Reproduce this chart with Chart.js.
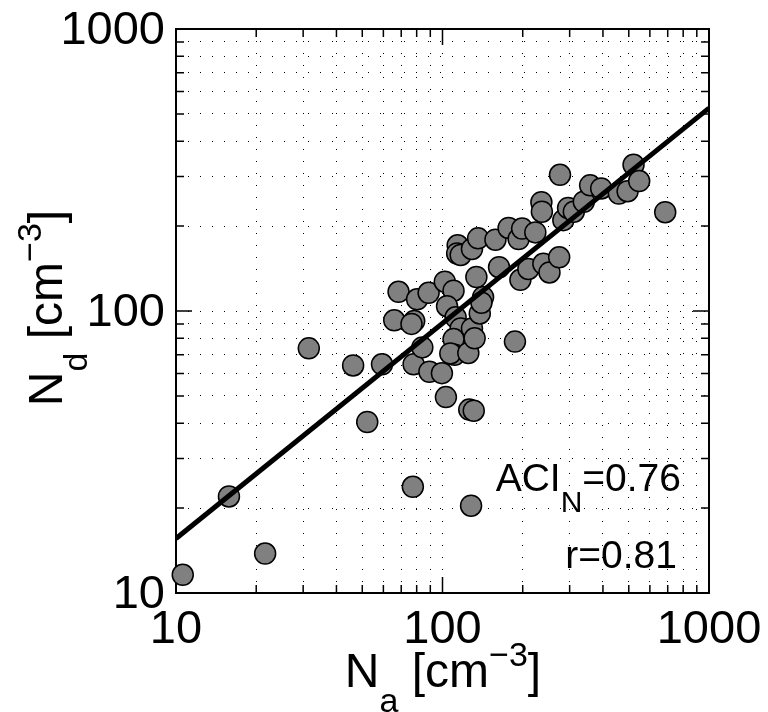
<!DOCTYPE html>
<html>
<head>
<meta charset="utf-8">
<script src="https://cdn.jsdelivr.net/npm/chart.js@4.4.1/dist/chart.umd.min.js"></script>
<style>
  html, body { margin: 0; background: #fff; }
  #wrap { width: 768px; height: 712px; position: relative; }
</style>
</head>
<body>
<div id="wrap"><canvas id="chart"></canvas></div>
<script>
// aerosol number (x) vs droplet number (y), both cm^-3
const na = [10.6, 15.8, 21.6, 31.5, 46.2, 52.2, 59.3, 68.4, 65.9, 78.3,
  76.5, 80.3, 88.7, 77.4, 77.9, 84, 89.3, 99.5, 102, 110,
  104, 112, 103, 117, 110, 111, 107, 125, 129, 132,
  126, 131, 128, 187, 142, 138, 134, 114, 113.5, 117,
  129, 136, 158, 163, 177, 193, 199, 223, 196, 210,
  239, 252, 274, 235, 236, 276, 284, 296, 311, 339,
  358, 394, 459, 495, 521, 547, 685, 140];
const nd = [11.6, 22.0, 13.8, 73.7, 64.1, 40.4, 64.7, 117, 92.7, 92.2,
  90, 110, 116, 23.8, 64.7, 74.3, 60.9, 60.2, 127, 118,
  104, 95, 49.5, 86.7, 79.5, 69.9, 70.7, 71, 86.7, 80,
  44.7, 44.3, 20.4, 77.9, 112, 98, 132, 171, 160, 158,
  166, 181, 179, 143, 197, 180, 196, 190, 129, 141,
  147, 137, 155, 243, 225, 304, 210, 232, 225, 244,
  279, 272, 261, 266, 330, 289, 224, 107];

// fitted line end points
const fitNa = [10, 1000];
const fitNd = [15.6, 524];

const gridValues = [10, 20, 30, 40, 50, 60, 70, 80, 90,
  100, 200, 300, 400, 500, 600, 700, 800, 900, 1000];
const labelValues = [10, 100, 1000];

const aciValue = '0.76';
const rValue = '0.81';

const FONT = '"Liberation Sans", Arial, Helvetica, sans-serif';

function drawParts(ctx, parts, x, y, align) {
  let total = 0;
  parts.forEach(p => {
    ctx.font = p[1] + 'px ' + FONT;
    total += ctx.measureText(p[0]).width;
  });
  let cx = x;
  if (align === 'center') cx = x - total / 2;
  if (align === 'right') cx = x - total;
  ctx.textAlign = 'left';
  ctx.textBaseline = 'alphabetic';
  parts.forEach(p => {
    ctx.font = p[1] + 'px ' + FONT;
    ctx.fillText(p[0], cx, y + p[2]);
    cx += ctx.measureText(p[0]).width;
  });
}

// inward ticks on all four sides plus the box
const frame = {
  id: 'frame',
  beforeDatasetsDraw(chart) {
    const ctx = chart.ctx;
    const a = chart.chartArea;
    const xs = chart.scales.x, ys = chart.scales.y;
    ctx.save();
    ctx.strokeStyle = '#000';
    ctx.lineWidth = 1.5;
    ctx.beginPath();
    gridValues.forEach(v => {
      const len = labelValues.includes(v) ? 16 : 8;
      const px = xs.getPixelForValue(v);
      ctx.moveTo(px, a.bottom); ctx.lineTo(px, a.bottom - len);
      ctx.moveTo(px, a.top); ctx.lineTo(px, a.top + len);
      const py = ys.getPixelForValue(v);
      ctx.moveTo(a.left, py); ctx.lineTo(a.left + len, py);
      ctx.moveTo(a.right, py); ctx.lineTo(a.right - len, py);
    });
    ctx.stroke();
    ctx.lineWidth = 2;
    ctx.strokeRect(a.left, a.top, a.right - a.left, a.bottom - a.top);
    ctx.restore();
  },
  afterDatasetsDraw(chart) {
    const ctx = chart.ctx;
    ctx.save();
    ctx.fillStyle = '#000';
    drawParts(ctx, [['ACI', 39, 0], ['N', 30, 20.5], ['=' + aciValue, 39, 0]], 681, 491, 'right');
    drawParts(ctx, [['r=' + rValue, 39, 0]], 677, 568, 'right');
    ctx.restore();
  },
  afterDraw(chart) {
    const ctx = chart.ctx;
    ctx.save();
    ctx.fillStyle = '#000';
    drawParts(ctx, [['N', 48, 0], ['a', 34, 25], [' [cm', 48, 0], ['\u22123', 34, -21], [']', 48, 0]], 443, 687, 'center');
    ctx.translate(62, 308);
    ctx.rotate(-Math.PI / 2);
    drawParts(ctx, [['N', 48, 0], ['d', 34, 25], [' [cm', 48, 0], ['\u22123', 34, -21], [']', 48, 0]], 0, 0, 'center');
    ctx.restore();
  }
};

const tickFont = { family: FONT, size: 47 };

function logAxis(extra) {
  return Object.assign({
    type: 'logarithmic',
    min: 10,
    max: 1000,
    afterBuildTicks: s => {
      s.ticks = gridValues.map(v => ({ value: v, major: labelValues.includes(v) }));
    },
    grid: { color: '#000', lineWidth: 1, drawTicks: false },
    border: { display: false, dash: [1, 11] }
  }, extra);
}

new Chart(document.getElementById('chart'), {
  type: 'scatter',
  data: {
    datasets: [
      {
        type: 'line',
        data: fitNa.map((v, i) => ({ x: v, y: fitNd[i] })),
        borderColor: '#000',
        borderWidth: 5,
        pointRadius: 0,
        fill: false,
        order: 0
      },
      {
        data: na.map((v, i) => ({ x: v, y: nd[i] })),
        backgroundColor: '#808080',
        borderColor: '#000',
        pointRadius: 10.5,
        pointBorderWidth: 1.5,
        clip: false,
        order: 1
      }
    ]
  },
  options: {
    responsive: true,
    maintainAspectRatio: false,
    animation: false,
    layout: { padding: { top: 29, right: 59, left: 0, bottom: 0 } },
    plugins: { legend: { display: false }, tooltip: { enabled: false } },
    scales: {
      x: logAxis({
        afterFit: s => { s.height = 119; s.paddingLeft = 0; s.paddingRight = 0; },
        ticks: {
          autoSkip: false, maxRotation: 0, padding: 9, color: '#000', font: tickFont,
          callback: v => labelValues.includes(v) ? String(v) : ''
        }
      }),
      y: logAxis({
        afterFit: s => { s.width = 176; s.paddingTop = 0; s.paddingBottom = 0; },
        ticks: {
          autoSkip: false, padding: 11, labelOffset: 2, color: '#000', font: tickFont,
          callback: v => labelValues.includes(v) ? String(v) : ''
        }
      })
    }
  },
  plugins: [frame]
});
</script>
</body>
</html>
